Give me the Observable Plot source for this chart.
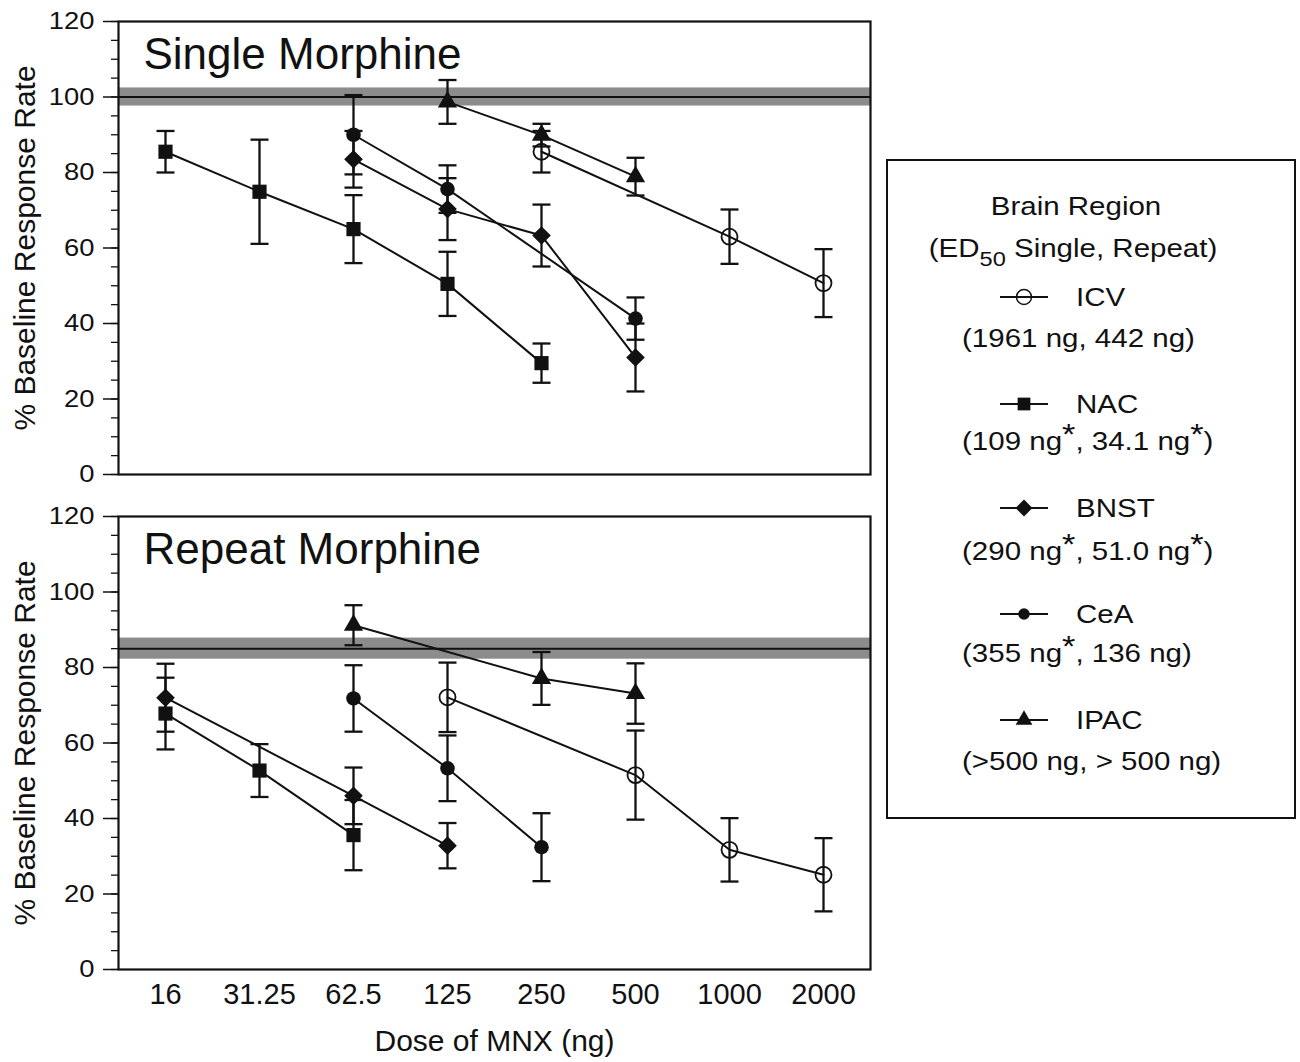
<!DOCTYPE html>
<html><head><meta charset="utf-8">
<script src="https://cdn.jsdelivr.net/npm/d3@7"></script>
<script src="https://cdn.jsdelivr.net/npm/@observablehq/plot@0.6"></script>
<style>
body{margin:0;background:#fff;font-family:"Liberation Sans",Arial,Helvetica,sans-serif;color:#111;}
#wrap{position:relative;width:1300px;height:1062px;overflow:hidden;}
#chart{position:absolute;left:0;top:0;}
#box{position:absolute;left:886px;top:159px;width:410px;height:660px;border:2px solid #111;box-sizing:border-box;}
.ln{position:absolute;white-space:nowrap;font-size:25px;line-height:30px;height:30px;}
.sx{display:inline-block;transform:scaleX(1.18);}
.c .sx{transform-origin:50% 50%;}
.l .sx{transform-origin:0 50%;}
.ylab{position:absolute;white-space:nowrap;font-size:30px;line-height:34px;transform:translate(-50%,-50%) rotate(-90deg);}
sup{font-size:29px;line-height:0;vertical-align:0.22em;}
sub{font-size:20px;line-height:0;vertical-align:-0.45em;}
</style></head><body><div id="wrap"><div id="chart"></div><div id="box"></div></div>
<script>
// ---- data ----
const doses = ["16","31.25","62.5","125","250","500","1000","2000"];
const panels = ["Single","Repeat"];
const panelTitles = ["Single Morphine","Repeat Morphine"];
const regions = ["ICV","NAC","BNST","CeA","IPAC"];
const yAxisLabel = "% Baseline Response Rate";
const xAxisLabel = "Dose of MNX (ng)";

// Single morphine (mean, SEM) by dose
const icvSingle     = [null,null,null,null,85.5,null,63.0,50.7];
const icvSingleErr  = [null,null,null,null,5.5,null,7.2,9.0];
const nacSingle     = [85.5,74.9,65.0,50.5,29.5,null,null,null];
const nacSingleErr  = [5.5,13.8,9.0,8.5,5.2,null,null,null];
const bnstSingle    = [null,null,83.5,70.3,63.3,31.0,null,null];
const bnstSingleErr = [null,null,7.5,8.2,8.2,9.0,null,null];
const ceaSingle     = [null,null,90.0,75.6,null,41.3,null,null];
const ceaSingleErr  = [null,null,10.5,6.3,null,5.6,null,null];
const ipacSingle    = [null,null,null,98.7,89.9,78.9,null,null];
const ipacSingleErr = [null,null,null,5.8,3.0,5.0,null,null];

// Repeat morphine
const icvRepeat     = [null,null,null,72.1,null,51.5,31.7,25.1];
const icvRepeatErr  = [null,null,null,9.2,null,11.8,8.4,9.7];
const nacRepeat     = [67.8,52.7,35.6,null,null,null,null,null];
const nacRepeatErr  = [9.5,7.0,9.3,null,null,null,null,null];
const bnstRepeat    = [72.0,null,46.0,32.8,null,null,null,null];
const bnstRepeatErr = [9.0,null,7.5,6.0,null,null,null,null];
const ceaRepeat     = [null,null,71.8,53.3,32.4,null,null,null];
const ceaRepeatErr  = [null,null,8.8,8.7,9.0,null,null,null];
const ipacRepeat    = [null,null,91.2,null,77.1,73.1,null,null];
const ipacRepeatErr = [null,null,5.3,null,7.0,8.0,null,null];

// Baseline response (mean +/- band) per panel
const baselineMean = [100, 85];
const baselineBand = [2.4, 2.8];

// Legend ED50 values
const ed50Single    = ["1961 ng","109 ng","290 ng","355 ng",">500 ng"];
const ed50SingleSig = [false,true,true,true,false];
const ed50Repeat    = ["442 ng","34.1 ng","51.0 ng","136 ng","> 500 ng"];
const ed50RepeatSig = [false,true,true,false,false];

// ---- build table ----
const rows = [];
function add(panel, region, vals, errs){
  vals.forEach((v,i)=>{ if(v!=null) rows.push({panel, region, dose: doses[i], mean: v, err: errs[i]}); });
}
add("Single","ICV",icvSingle,icvSingleErr);
add("Single","NAC",nacSingle,nacSingleErr);
add("Single","BNST",bnstSingle,bnstSingleErr);
add("Single","CeA",ceaSingle,ceaSingleErr);
add("Single","IPAC",ipacSingle,ipacSingleErr);
add("Repeat","ICV",icvRepeat,icvRepeatErr);
add("Repeat","NAC",nacRepeat,nacRepeatErr);
add("Repeat","BNST",bnstRepeat,bnstRepeatErr);
add("Repeat","CeA",ceaRepeat,ceaRepeatErr);
add("Repeat","IPAC",ipacRepeat,ipacRepeatErr);
const baseRows = panels.map((p,i)=>({panel:p, mean: baselineMean[i], band: baselineBand[i]}));

const symbolOf = {ICV:"circle", NAC:"square", BNST:"diamond2", CeA:"circle", IPAC:"triangle2"};
const rOf = {ICV:8, NAC:8, BNST:8.4, CeA:7.3, IPAC:9.2};

// horizontal cap symbol for error bars
const capSymbol = {draw(context){ context.moveTo(-9, 0); context.lineTo(9, 0); }};

const dotMarks = regions.map(reg => Plot.dot(rows.filter(d=>d.region===reg), {
  x:"dose", y:"mean", fy:"panel", symbol: symbolOf[reg], r: rOf[reg],
  fill: reg==="ICV" ? "none" : "#111", stroke:"#111", strokeWidth: reg==="ICV" ? 1.8 : 0
}));

const plot = Plot.plot({
  width: 880, height: 1062,
  marginLeft: 118, marginRight: 10, marginTop: 21, marginBottom: 92,
  style: {fontFamily: '"Liberation Sans", Arial, Helvetica, sans-serif', background: "white", color: "#111"},
  x: {type: "point", domain: doses, padding: 0.5},
  y: {domain: [0, 120]},
  fy: {domain: panels, paddingInner: 0.0847, paddingOuter: 0, axis: null, label: null},
  marks: [
    Plot.rect(baseRows, {y1: d=>d.mean-d.band, y2: d=>d.mean+d.band, fy:"panel", fill:"#8c8c8c"}),
    Plot.ruleY(baseRows, {y:"mean", fy:"panel", stroke:"#111", strokeWidth:2}),
    Plot.line(rows, {x:"dose", y:"mean", z:"region", fy:"panel", stroke:"#111", strokeWidth:2}),
    Plot.ruleX(rows, {x:"dose", y1: d=>d.mean-d.err, y2: d=>d.mean+d.err, fy:"panel", stroke:"#111", strokeWidth:2.3}),
    Plot.dot(rows, {x:"dose", y: d=>d.mean+d.err, fy:"panel", symbol: capSymbol, fill:"none", stroke:"#111", strokeWidth:2.3}),
    Plot.dot(rows, {x:"dose", y: d=>d.mean-d.err, fy:"panel", symbol: capSymbol, fill:"none", stroke:"#111", strokeWidth:2.3}),
    ...dotMarks,
    Plot.frame({stroke:"#111", strokeWidth:2.2}),
    Plot.axisY({ticks: d3.range(0,121,5), tickSize: 7, tickFormat: () => "", label: null, stroke:"#111", strokeWidth:1.3}),
    Plot.axisY({ticks: d3.range(0,121,20), tickSize: 15, tickPadding: 9, fontSize: 24, label: null, stroke:"#111", strokeWidth:1.5}),
    Plot.axisX({tickSize: 0, tickPadding: 14, fontSize: 29, label: null}),
    Plot.text(panelTitles, {text: d=>d, fy: (d,i)=>panels[i], frameAnchor:"top-left", textAnchor:"start", lineAnchor:"middle", dx:25, dy:33, fontSize:44, fill:"#111"}),
    Plot.text([xAxisLabel], {text: d=>d, fy: () => "Repeat", frameAnchor:"bottom", lineAnchor:"middle", dy:72, fontSize:30, fill:"#111"})
  ]
});
plot.querySelectorAll('g[aria-label="y-axis tick label"] text').forEach(t => {
  const tr = t.getAttribute("transform") || "";
  t.setAttribute("transform", tr + " scale(1.14,1)");
});
document.getElementById("chart").appendChild(plot);

const wrap = document.getElementById("wrap");
// rotated y-axis titles, one per panel
[248, 743].forEach(yc => {
  const d = document.createElement("div");
  d.className = "ylab";
  d.style.left = "25px"; d.style.top = yc + "px";
  d.textContent = yAxisLabel;
  wrap.appendChild(d);
});

// ---- legend ----
function line(html, x, yc, cls){
  const d = document.createElement("div");
  d.className = "ln " + cls;
  d.style.top = (yc - 15) + "px";
  if (cls === "c") { d.style.left = x + "px"; d.style.transform = "translateX(-50%)"; }
  else d.style.left = x + "px";
  d.innerHTML = '<span class="sx">' + html + '</span>';
  wrap.appendChild(d);
}
line("Brain Region", 1076, 206, "c");
line("(ED<sub>50</sub> Single, Repeat)", 1073, 248, "c");
const rowY = [297, 404, 508, 614, 720];
const edY = [338, 441, 551, 653, 761];
const legR = {ICV:7.5, NAC:7.2, BNST:7.6, CeA:5.8, IPAC:8};
const d3sym = {circle: d3.symbolCircle, square: d3.symbolSquare, diamond2: d3.symbolDiamond2, triangle2: d3.symbolTriangle2};
regions.forEach((reg, i) => {
  const svg = d3.create("svg").attr("width", 56).attr("height", 24)
    .style("position","absolute").style("left", "996px").style("top", (rowY[i]-12) + "px");
  svg.append("line").attr("x1",4).attr("x2",52).attr("y1",12).attr("y2",12).attr("stroke","#111").attr("stroke-width",1.8);
  const r = legR[reg];
  svg.append("path").attr("transform","translate(28,12)")
    .attr("d", d3.symbol(d3sym[symbolOf[reg]], Math.PI*r*r)())
    .attr("fill", reg==="ICV" ? "none" : "#111").attr("stroke","#111").attr("stroke-width", reg==="ICV" ? 1.5 : 0);
  wrap.appendChild(svg.node());
  line(reg, 1076, rowY[i], "l");
  const s = "(" + ed50Single[i] + (ed50SingleSig[i] ? "<sup>*</sup>" : "") + ", " + ed50Repeat[i] + (ed50RepeatSig[i] ? "<sup>*</sup>" : "") + ")";
  line(s, 962, edY[i], "l");
});
</script></body></html>
